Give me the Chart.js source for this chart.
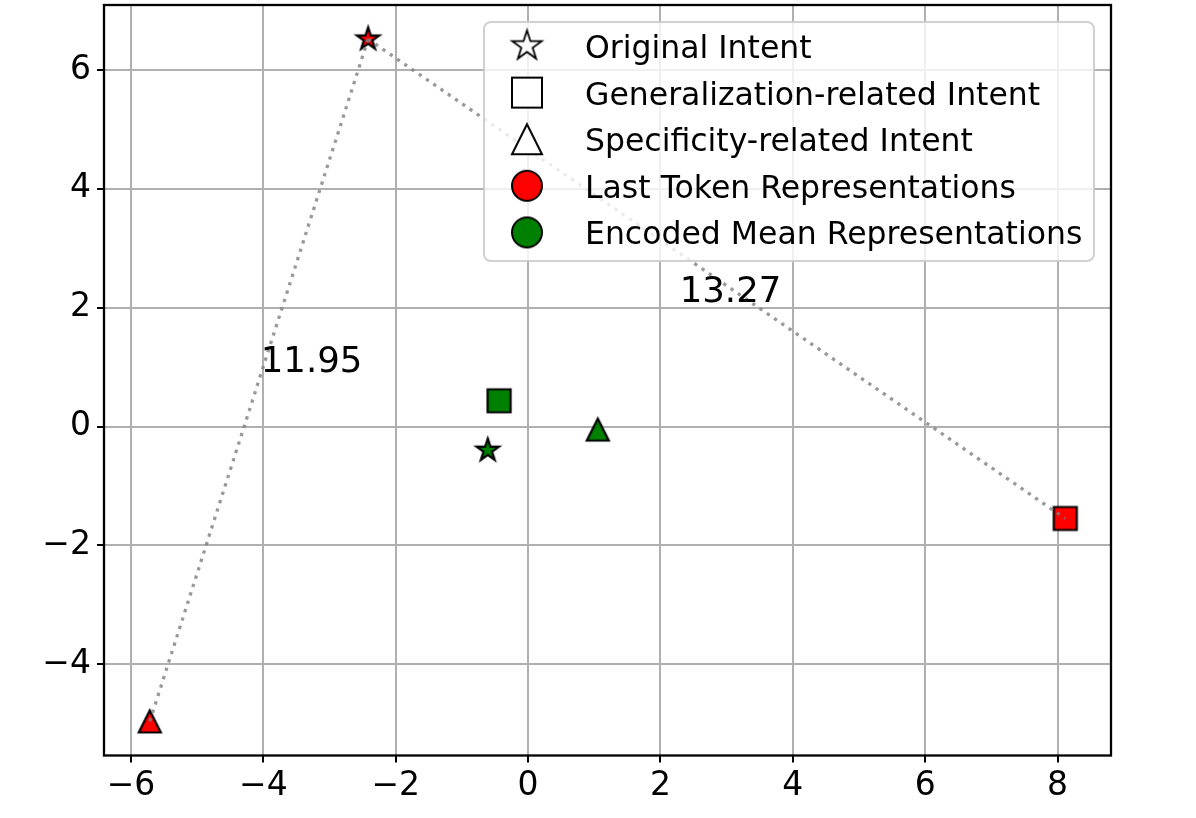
<!DOCTYPE html>
<html>
<head>
<meta charset="utf-8">
<script src="https://cdn.jsdelivr.net/npm/chart.js@4.4.1/dist/chart.umd.min.js"></script>
<style>
    html, body { margin: 0; padding: 0; background: #fff; }
    #wrap { width: 1196px; height: 818px; position: relative; }
</style>
</head>
<body>
<div id="wrap"><canvas id="scatterChart"></canvas></div>
<script>
const shapeNames = ['Original Intent', 'Generalization-related Intent', 'Specificity-related Intent'];
const groupNames = ['Last Token Representations', 'Encoded Mean Representations'];

// order of points in each group: original, generalization, specificity
const lastTokenX = [-2.418, 8.116, -5.716];
const lastTokenY = [6.52, -1.548, -4.963];
const meanX = [-0.609, -0.438, 1.053];
const meanY = [-0.40, 0.433, -0.052];

const distLabels = ['11.95', '13.27'];
const distLabelX = [-4.04, 2.29];
const distLabelY = [0.91, 2.10];

const xTicks = [-6, -4, -2, 0, 2, 4, 6, 8];
const yTicks = [-4, -2, 0, 2, 4, 6];
const xRange = [-6.408, 8.807];
const yRange = [-5.537, 7.094];

const FONT = 'DejaVu Sans';
const RED = '#ff0000';
const GREEN = '#008000';

function markerPath(ctx, shape, r) {
    ctx.beginPath();
    if (shape === 'star') {
        for (let i = 0; i < 10; i++) {
            const a = -Math.PI / 2 + i * Math.PI / 5;
            const rr = i % 2 === 0 ? r : r * 0.381966;
            const px = Math.cos(a) * rr, py = Math.sin(a) * rr;
            if (i === 0) ctx.moveTo(px, py); else ctx.lineTo(px, py);
        }
    } else if (shape === 'square') {
        ctx.rect(-r, -r, 2 * r, 2 * r);
    } else if (shape === 'triangle') {
        ctx.moveTo(0, -r);
        ctx.lineTo(-r, r);
        ctx.lineTo(r, r);
    } else {
        ctx.arc(0, 0, r, 0, Math.PI * 2);
    }
    ctx.closePath();
}

// small offscreen canvas used as a Chart.js pointStyle
function makeMarker(shape, r, fill, lw) {
    const c = document.createElement('canvas');
    const size = Math.ceil(r * 2 + lw * 4 + 6);
    c.width = size;
    c.height = size;
    const g = c.getContext('2d');
    g.translate(size / 2, size / 2);
    markerPath(g, shape, r);
    g.fillStyle = fill;
    g.fill();
    g.lineWidth = lw;
    g.strokeStyle = '#000';
    g.lineJoin = 'miter';
    g.stroke();
    return c;
}

const shapeKeys = ['star', 'square', 'triangle'];
const shapeSize = { star: 11.8, square: 11.5, triangle: 11 };
const redMarkers = shapeKeys.map(s => makeMarker(s, shapeSize[s], RED, 2.2));
const greenMarkers = shapeKeys.map(s => makeMarker(s, shapeSize[s], GREEN, 2.2));

const legendEntries = [
    { label: shapeNames[0], marker: makeMarker('star', 15.5, '#fff', 1.8) },
    { label: shapeNames[1], marker: makeMarker('square', 15, '#fff', 2) },
    { label: shapeNames[2], marker: makeMarker('triangle', 15, '#fff', 2) },
    { label: groupNames[0], marker: makeMarker('circle', 15, RED, 2) },
    { label: groupNames[1], marker: makeMarker('circle', 15, GREEN, 2) }
];

function fmtTick(v) {
    return v < 0 ? '\u2212' + Math.abs(v) : String(v);
}

function pt(xs, ys, i) {
    return { x: xs[i], y: ys[i] };
}

const frameAndText = {
    id: 'frameAndText',
    afterDatasetsDraw(chart) {
        const { ctx, chartArea, scales } = chart;
        ctx.save();
        ctx.strokeStyle = '#000';
        ctx.lineWidth = 2.3;
        ctx.strokeRect(chartArea.left, chartArea.top, chartArea.right - chartArea.left, chartArea.bottom - chartArea.top);

        ctx.fillStyle = '#000';
        ctx.font = `35.5px "${FONT}"`;
        ctx.textAlign = 'left';
        ctx.textBaseline = 'alphabetic';
        distLabels.forEach((txt, i) => {
            ctx.fillText(txt, scales.x.getPixelForValue(distLabelX[i]), scales.y.getPixelForValue(distLabelY[i]));
        });
        ctx.restore();
    }
};

const legendBox = {
    id: 'legendBox',
    afterDraw(chart) {
        const ctx = chart.ctx;
        ctx.save();
        ctx.beginPath();
        ctx.roundRect(484, 22, 610, 239, 7);
        ctx.fillStyle = 'rgba(255,255,255,0.8)';
        ctx.fill();
        ctx.strokeStyle = 'rgba(204,204,204,0.9)';
        ctx.lineWidth = 2;
        ctx.stroke();

        ctx.font = `31.5px "${FONT}"`;
        ctx.fillStyle = '#000';
        ctx.textAlign = 'left';
        ctx.textBaseline = 'alphabetic';
        legendEntries.forEach((e, i) => {
            const cy = 46 + i * 46.6;
            ctx.drawImage(e.marker, 527 - e.marker.width / 2, cy - e.marker.height / 2);
            ctx.fillText(e.label, 585, cy + 12);
        });
        ctx.restore();
    }
};

function axisOptions(range, ticks, isX) {
    return {
        type: 'linear',
        min: range[0],
        max: range[1],
        afterBuildTicks: s => { s.ticks = ticks.map(v => ({ value: v })); },
        afterFit: s => {
            if (isX) s.height = 62.5; else s.width = 104;
            s.paddingLeft = 0; s.paddingRight = 0;
            s.paddingTop = 0; s.paddingBottom = 0;
        },
        grid: { color: '#b0b0b0', lineWidth: 2, tickColor: '#000', tickWidth: 2, tickLength: 7 },
        border: { display: false },
        ticks: {
            color: '#000',
            font: { family: FONT, size: 33 },
            padding: isX ? 4 : 6,
            maxRotation: 0,
            autoSkip: false,
            callback: fmtTick
        }
    };
}

const lineStyle = {
    showLine: true,
    borderColor: 'rgba(128,128,128,0.8)',
    borderWidth: 3.3,
    borderDash: [3.3, 5.5],
    borderCapStyle: 'butt',
    pointRadius: 0,
    order: 0
};

new Chart(document.getElementById('scatterChart'), {
    type: 'scatter',
    data: {
        datasets: [
            Object.assign({ data: [pt(lastTokenX, lastTokenY, 0), pt(lastTokenX, lastTokenY, 2)] }, lineStyle),
            Object.assign({ data: [pt(lastTokenX, lastTokenY, 0), pt(lastTokenX, lastTokenY, 1)] }, lineStyle),
            {
                label: groupNames[0],
                data: lastTokenX.map((x, i) => pt(lastTokenX, lastTokenY, i)),
                pointStyle: redMarkers,
                pointRadius: 12,
                order: 1
            },
            {
                label: groupNames[1],
                data: meanX.map((x, i) => pt(meanX, meanY, i)),
                pointStyle: greenMarkers,
                pointRadius: 12,
                order: 1
            }
        ]
    },
    options: {
        responsive: true,
        maintainAspectRatio: false,
        animation: false,
        layout: { autoPadding: false, padding: { top: 5, right: 85, left: 0, bottom: 0 } },
        plugins: {
            legend: { display: false },
            tooltip: { enabled: false }
        },
        scales: {
            x: axisOptions(xRange, xTicks, true),
            y: axisOptions(yRange, yTicks, false)
        }
    },
    plugins: [frameAndText, legendBox]
});
</script>
</body>
</html>
